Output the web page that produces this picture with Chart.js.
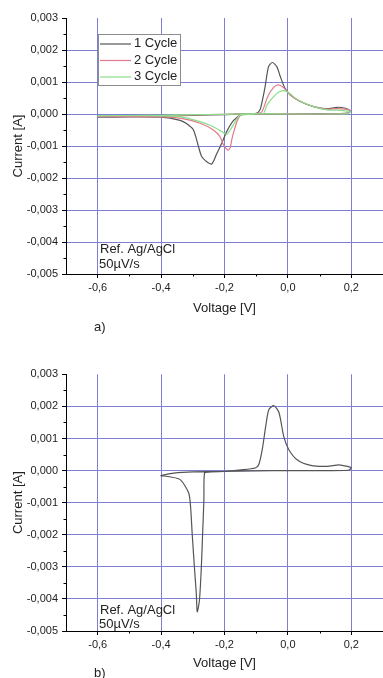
<!DOCTYPE html>
<html><head><meta charset="utf-8">
<script src="https://cdn.jsdelivr.net/npm/chart.js@4"></script>
<style>
html,body{margin:0;padding:0;background:#fff;width:383px;height:678px;overflow:hidden}
.wrap{position:absolute;left:0;width:383px}
#w1{top:0;height:340px}
#w2{top:340px;height:338px}
canvas{display:block}
</style></head><body>
<div class="wrap" id="w1"><canvas id="c1"></canvas></div>
<div class="wrap" id="w2"><canvas id="c2"></canvas></div>
<script>
// ---------- DATA ----------
const xTickValues = [-0.6, -0.4, -0.2, 0.0, 0.2];
const xMinorValues = [-0.5, -0.3, -0.1, 0.1];
const yTickValues = [-0.005, -0.004, -0.003, -0.002, -0.001, 0.000, 0.001, 0.002, 0.003];
const yMinorValues = [-0.0045, -0.0035, -0.0025, -0.0015, -0.0005, 0.0005, 0.0015, 0.0025];
const seriesLabels = ['1 Cycle', '2 Cycle', '3 Cycle'];

// a) cycle 1
const voltA1 = [-0.60,-0.50,-0.40,-0.30,-0.20,-0.15,-0.10,-0.088,-0.080,-0.072,-0.061,-0.049,-0.035,-0.024,-0.009,0.007,0.039,0.081,0.123,0.155,0.181,0.197,
  0.19,0.10,0.00,-0.10,-0.145,-0.151,-0.172,-0.193,-0.209,-0.224,-0.240,-0.256,-0.272,-0.282,-0.298,-0.320,-0.340,-0.40,-0.50,-0.60];
const currA1 = [-0.00010,-0.00009,-0.00007,-0.00004,-0.00002,0.00000,0.00002,0.00013,0.00045,0.00085,0.00148,0.00161,0.00148,0.00117,0.00080,0.00060,0.00039,0.00023,0.00016,0.00021,0.00018,0.00010,
  0.00003,0.00001,0.00000,0.00000,0.00000,-0.00003,-0.00021,-0.00055,-0.00092,-0.00123,-0.00156,-0.00149,-0.00133,-0.00102,-0.00050,-0.00030,-0.00020,-0.00010,-0.00009,-0.00009];
// a) cycle 2
const voltA2 = [-0.60,-0.50,-0.40,-0.30,-0.20,-0.135,-0.10,-0.082,-0.064,-0.045,-0.030,-0.014,0.002,0.020,0.039,0.081,0.123,0.155,0.181,0.197,
  0.19,0.10,0.00,-0.10,-0.135,-0.151,-0.161,-0.172,-0.177,-0.182,-0.188,-0.193,-0.203,-0.214,-0.235,-0.277,-0.340,-0.40,-0.50,-0.60];
const currA2 = [-0.00008,-0.00007,-0.00005,-0.00003,-0.00001,0.00000,0.00001,0.00007,0.00054,0.00083,0.00091,0.00083,0.00065,0.00050,0.00040,0.00023,0.00015,0.00017,0.00015,0.00010,
  0.00002,0.00000,0.00000,0.00000,0.00000,-0.00006,-0.00024,-0.00060,-0.00080,-0.00105,-0.00113,-0.00110,-0.00097,-0.00071,-0.00050,-0.00029,-0.00013,-0.00009,-0.00008,-0.00008];
// a) cycle 3
const voltA3 = [-0.60,-0.50,-0.40,-0.30,-0.20,-0.151,-0.10,-0.077,-0.066,-0.045,-0.030,-0.014,0.002,0.020,0.039,0.081,0.123,0.155,0.181,0.197,
  0.19,0.10,0.00,-0.10,-0.151,-0.166,-0.182,-0.193,-0.209,-0.235,-0.277,-0.340,-0.40,-0.50,-0.60];
const currA3 = [-0.00006,-0.00005,-0.00004,-0.00002,-0.00001,0.00000,0.00001,0.00002,0.00028,0.00054,0.00068,0.00073,0.00067,0.00052,0.00040,0.00023,0.00013,0.00012,0.00010,0.00007,
  0.00001,0.00000,0.00000,0.00000,-0.00004,-0.00024,-0.00050,-0.00064,-0.00055,-0.00040,-0.00024,-0.00008,-0.00006,-0.00005,-0.00005];
// b) single cycle
const voltB = [-0.402,-0.36,-0.30,-0.202,-0.15,-0.103,-0.092,-0.081,-0.070,-0.060,-0.044,-0.028,-0.013,0.003,0.030,0.072,0.124,0.161,0.188,0.200,
  0.19,0.10,0.00,-0.10,-0.20,-0.25,-0.263,-0.265,-0.269,-0.273,-0.279,-0.286,-0.289,-0.295,-0.302,-0.307,-0.313,-0.339,-0.370,-0.402];
const currB = [-0.00016,-0.00008,-0.00004,-0.00003,0.00002,0.00008,0.00018,0.00065,0.00138,0.00190,0.00202,0.00180,0.00106,0.00065,0.00033,0.00016,0.00013,0.00018,0.00013,0.00008,
  0.00001,0.00000,0.00000,-0.00001,-0.00003,-0.00005,-0.00008,-0.00092,-0.00196,-0.00300,-0.00404,-0.00440,-0.00383,-0.00300,-0.00196,-0.00113,-0.00070,-0.00029,-0.00020,-0.00016];

// ---------- STYLE ----------
const FONT = '"Liberation Sans", Arial, sans-serif';
const TXT = '#222';
const GRID = '#7e7ed2';
const colors = ['#555555', '#e07a8a', '#8ade8a'];

const pts = (xs, ys) => xs.map((x, i) => ({x, y: ys[i]}));

const extras = {
  id: 'extras',
  afterDatasetsDraw(chart, args, o) {
    const ctx = chart.ctx, a = chart.chartArea;
    const xs = chart.scales.x, ys = chart.scales.y;
    ctx.save();
    ctx.strokeStyle = '#000'; ctx.lineWidth = 1;
    ctx.beginPath();
    xMinorValues.forEach(v => { const p = Math.round(xs.getPixelForValue(v)) + 0.5; ctx.moveTo(p, a.bottom); ctx.lineTo(p, a.bottom + 2.5); });
    yMinorValues.forEach(v => { const p = Math.round(ys.getPixelForValue(v)) + 0.5; ctx.moveTo(a.left, p); ctx.lineTo(a.left - 2.5, p); });
    ctx.stroke();
    ctx.fillStyle = TXT;
    ctx.font = '13px ' + FONT;
    ctx.textBaseline = 'middle'; ctx.textAlign = 'left';
    ctx.fillText('Ref. Ag/AgCl', a.left + o.refX, a.bottom - o.refY1);
    ctx.fillText('50\u00B5V/s', a.left + o.refX - 1, a.bottom - o.refY2);
    ctx.fillText(o.tag, a.left + 28, chart.height - o.tagY);
    if (o.legend) {
      const L = a.left + 32, T = a.top + 16, W = 82, H = 51;
      ctx.fillStyle = '#fff'; ctx.fillRect(L, T, W, H);
      ctx.strokeStyle = '#8c8c8c'; ctx.lineWidth = 1;
      ctx.strokeRect(L + 0.5, T + 0.5, W, H);
      const rows = [9.5, 26, 42.5];
      chart.data.datasets.forEach((d, i) => {
        ctx.strokeStyle = d.borderColor; ctx.lineWidth = 1.2;
        ctx.beginPath(); ctx.moveTo(L + 2, T + rows[i] + 0.5); ctx.lineTo(L + 33, T + rows[i] + 0.5); ctx.stroke();
        ctx.fillStyle = TXT; ctx.fillText(d.label, L + 36, T + rows[i]);
      });
    }
    ctx.restore();
  }
};

function makeOptions(cfg) {
  return {
    responsive: true, maintainAspectRatio: false, animation: false, devicePixelRatio: 1,
    layout: {padding: {top: cfg.padTop, left: 0, right: 0, bottom: 0}},
    plugins: {legend: {display: false}, tooltip: {enabled: false},
      extras: {legend: cfg.legend, tag: cfg.tag, tagY: cfg.tagY, refX: 34, refY1: cfg.refY1, refY2: cfg.refY2}},
    elements: {point: {radius: 0}, line: {borderWidth: 1.2, tension: 0.25}},
    scales: {
      x: {
        type: 'linear', min: -0.7, max: 0.3,
        afterBuildTicks: s => { s.ticks = xTickValues.map(v => ({value: v})); },
        afterFit: s => { s.height = cfg.xH; },
        ticks: {color: TXT, font: {family: FONT, size: 11}, padding: 3, maxRotation: 0,
          callback: v => v.toFixed(1).replace('.', ',')},
        grid: {color: GRID, lineWidth: 1, tickColor: '#000', tickLength: 4},
        border: {display: true, color: '#000', width: 1},
        title: {display: true, text: 'Voltage [V]', color: TXT, font: {family: FONT, size: 13}, padding: {top: 0, bottom: cfg.xTitlePad}}
      },
      y: {
        type: 'linear', min: -0.005, max: 0.003,
        afterBuildTicks: s => { s.ticks = yTickValues.map(v => ({value: v})); },
        afterFit: s => { s.width = 66; },
        ticks: {color: TXT, font: {family: FONT, size: 11}, padding: 4,
          callback: v => v.toFixed(3).replace('.', ',')},
        grid: {color: c => (c.tick && Math.abs(c.tick.value - 0.003) < 1e-9) ? 'rgba(0,0,0,0)' : GRID,
          lineWidth: 1, tickColor: '#000', tickLength: 4},
        border: {display: true, color: '#000', width: 1},
        title: {display: true, text: 'Current [A]', color: TXT, font: {family: FONT, size: 13}, padding: {top: 10.2, bottom: 0}}
      }
    }
  };
}

new Chart(document.getElementById('c1'), {
  type: 'scatter',
  data: {datasets: [
    {label: seriesLabels[0], data: pts(voltA1, currA1), showLine: true, borderColor: colors[0], backgroundColor: colors[0], order: 2},
    {label: seriesLabels[1], data: pts(voltA2, currA2), showLine: true, borderColor: colors[1], backgroundColor: colors[1], order: 1},
    {label: seriesLabels[2], data: pts(voltA3, currA3), showLine: true, borderColor: colors[2], backgroundColor: colors[2], order: 0}
  ]},
  options: makeOptions({padTop: 18, xH: 66, xTitlePad: 24.2, legend: true, tag: 'a)', tagY: 13, refY1: 25, refY2: 10}),
  plugins: [extras]
});

new Chart(document.getElementById('c2'), {
  type: 'scatter',
  data: {datasets: [
    {label: seriesLabels[0], data: pts(voltB, currB), showLine: true, borderColor: colors[0], backgroundColor: colors[0]}
  ]},
  options: makeOptions({padTop: 34.3, xH: 47, xTitlePad: 7.2, legend: false, tag: 'b)', tagY: 5, refY1: 21, refY2: 7}),
  plugins: [extras]
});
</script>
</body></html>
